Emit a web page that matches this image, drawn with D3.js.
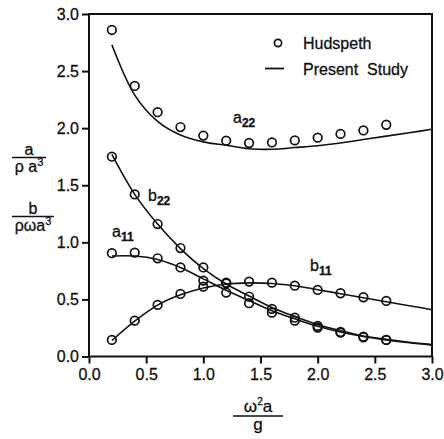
<!DOCTYPE html>
<html><head><meta charset="utf-8">
<script src="https://cdn.jsdelivr.net/npm/d3@7"></script>
<style>
html,body{margin:0;padding:0;background:#fff;}
svg text{font-family:"Liberation Sans",Arial,sans-serif;fill:#111;stroke:#111;stroke-width:0.3px;}
</style></head>
<body><svg id="c" width="444" height="439"></svg>
<script>
// Data
const xPts = [0.2,0.4,0.6,0.8,1.0,1.2,1.4,1.6,1.8,2.0,2.2,2.4,2.6];
const a22Pts = [2.86,2.37,2.14,2.01,1.935,1.89,1.87,1.875,1.893,1.917,1.95,1.98,2.03];
const b22Pts = [1.75,1.42,1.16,0.95,0.78,0.64,0.525,0.417,0.34,0.268,0.215,0.174,0.145];
const a11Pts = [0.905,0.91,0.86,0.78,0.665,0.56,0.467,0.384,0.314,0.253,0.209,0.168,0.145];
const b11Pts = [0.145,0.314,0.452,0.548,0.612,0.647,0.656,0.647,0.62,0.583,0.554,0.519,0.487];

const xLine = [0.2,0.4,0.6,0.8,1.0,1.2,1.4,1.6,1.8,2.0,2.2,2.4,2.6,2.8,3.0];
const a22Line = [2.73,2.29,2.06,1.94,1.88,1.85,1.82,1.815,1.83,1.846,1.87,1.90,1.93,1.96,1.99];
const b22Line = [1.77,1.42,1.16,0.945,0.77,0.635,0.53,0.43,0.35,0.28,0.225,0.18,0.15,0.125,0.105];
const a11Line = [0.88,0.88,0.85,0.78,0.68,0.58,0.49,0.40,0.33,0.265,0.215,0.175,0.145,0.12,0.10];
const b11Line = [0.14,0.31,0.45,0.54,0.60,0.635,0.645,0.64,0.62,0.585,0.55,0.515,0.48,0.445,0.41];

const xTicks = [0,0.5,1,1.5,2,2.5,3];
const yTicks = [0,0.5,1,1.5,2,2.5,3];

const svg = d3.select("#c");
const x = d3.scaleLinear().domain([0,3]).range([89,432]);
const y = d3.scaleLinear().domain([0,3]).range([356.5,14]);

// curves
const line = d3.line().x(d=>x(d[0])).y(d=>y(d[1])).curve(d3.curveCatmullRom.alpha(0.5));
[a22Line,b22Line,a11Line,b11Line].forEach(vals=>{
  svg.append("path").datum(xLine.map((v,i)=>[v,vals[i]]))
    .attr("d",line).attr("fill","none").attr("stroke","#111").attr("stroke-width",1.6);
});

// points
[a22Pts,b22Pts,a11Pts,b11Pts].forEach(vals=>{
  svg.append("g").selectAll("circle").data(xPts.map((v,i)=>[v,vals[i]])).join("circle")
    .attr("cx",d=>x(d[0])).attr("cy",d=>y(d[1])).attr("r",4.3)
    .attr("fill","none").attr("stroke","#111").attr("stroke-width",1.7);
});

// frame
svg.append("rect").attr("x",89).attr("y",14).attr("width",343).attr("height",342.5)
  .attr("fill","none").attr("stroke","#111").attr("stroke-width",2);

// axes
const fmt = d3.format(".1f");
const gx = svg.append("g").attr("transform","translate(0,356.5)")
  .call(d3.axisBottom(x).tickValues(xTicks).tickFormat(fmt).tickSize(7).tickSizeOuter(0).tickPadding(5));
const gy = svg.append("g").attr("transform","translate(89,0)")
  .call(d3.axisLeft(y).tickValues(yTicks).tickFormat(fmt).tickSize(7).tickSizeOuter(0).tickPadding(3));
[gx,gy].forEach(g=>{
  g.select(".domain").remove();
  g.selectAll("line").attr("stroke","#111").attr("stroke-width",2);
  g.selectAll("text").attr("font-size",16).attr("font-family","Liberation Sans, Arial, sans-serif")
    .attr("fill","#111").attr("stroke","#111").attr("stroke-width",0.45);
});

// legend
svg.append("circle").attr("cx",278).attr("cy",43).attr("r",3.6).attr("fill","none").attr("stroke","#111").attr("stroke-width",1.7);
svg.append("text").attr("x",303).attr("y",48.5).attr("font-size",16).text("Hudspeth");
svg.append("line").attr("x1",265).attr("x2",284).attr("y1",68.5).attr("y2",68.5).attr("stroke","#111").attr("stroke-width",1.8);
svg.append("text").attr("x",303).attr("y",74.5).attr("font-size",16).attr("xml:space","preserve").text("Present  Study");

// curve labels
function sub(xp, yp, main, s){
  const t = svg.append("text").attr("x",xp).attr("y",yp).attr("font-size",16);
  t.append("tspan").text(main);
  t.append("tspan").attr("dy",4).attr("font-size",12).attr("font-weight","bold").text(s);
}
sub(233,123,"a","22");
sub(148,201,"b","22");
sub(112,237,"a","11");
sub(310,271,"b","11");

// y label fractions
function frac(cx, ly, num, w){
  svg.append("text").attr("x",cx).attr("y",ly-3).attr("text-anchor","middle").attr("font-size",16).text(num);
  svg.append("line").attr("x1",cx-w/2).attr("x2",cx+w/2).attr("y1",ly).attr("y2",ly).attr("stroke","#111").attr("stroke-width",1.6);
  return svg.append("text").attr("x",cx).attr("y",ly+14).attr("text-anchor","middle").attr("font-size",16);
}
let t1 = frac(29,157.5,"a",34);
t1.append("tspan").text("ρ a");
t1.append("tspan").attr("dy",-6).attr("font-size",11).text("3");
let t2 = frac(33,216.5,"b",42);
t2.append("tspan").text("ρωa");
t2.append("tspan").attr("dy",-6).attr("font-size",11).text("3");

// x label
svg.append("text").attr("x",258).attr("y",412).attr("text-anchor","middle").attr("font-size",17)
  .call(t=>{t.append("tspan").text("ω");t.append("tspan").attr("dy",-7).attr("font-size",10).text("2");t.append("tspan").attr("dy",7).text("a");});
svg.append("line").attr("x1",233).attr("x2",283).attr("y1",416).attr("y2",416).attr("stroke","#111").attr("stroke-width",1.6);
svg.append("text").attr("x",258).attr("y",430).attr("text-anchor","middle").attr("font-size",17).text("g");
</script></body></html>
